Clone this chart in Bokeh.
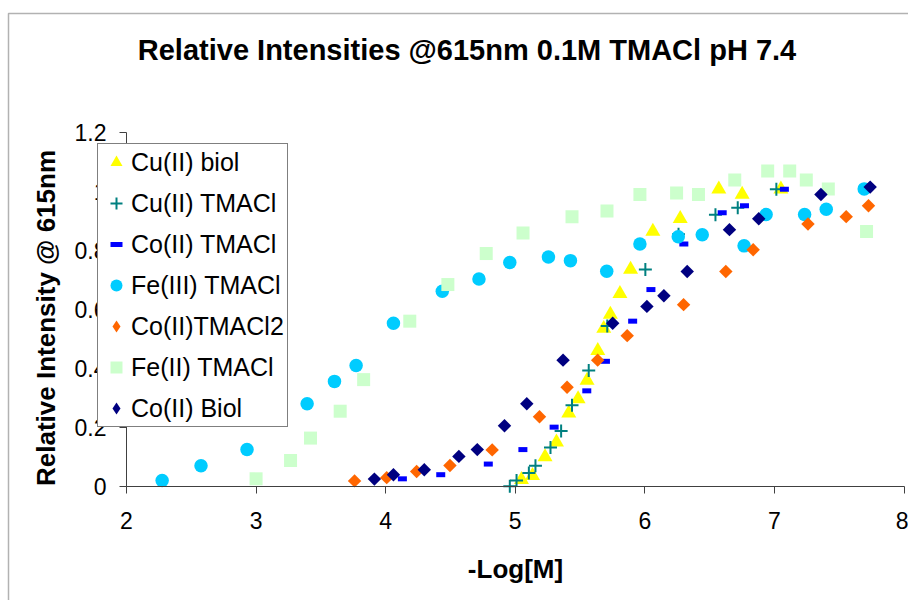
import math
from bokeh.plotting import figure
from bokeh.models import Range1d, FixedTicker, Legend, LegendItem, BoxAnnotation, Label
from bokeh.embed import file_html
from bokeh.resources import INLINE

# ---- data ----
x_ticks = [2, 3, 4, 5, 6, 7, 8]
x_tick_labels = ["2", "3", "4", "5", "6", "7", "8"]
y_ticks = [0, 0.2, 0.4, 0.6, 0.8, 1.0, 1.2]
y_tick_labels = ["0", "0.2", "0.4", "0.6", "0.8", "1", "1.2"]

title_text = "Relative Intensities @615nm 0.1M TMACl pH 7.4"
x_label = "-Log[M]"
y_label = "Relative Intensity @ 615nm"

series_names = ["Cu(II) biol", "Cu(II) TMACl", "Co(II) TMACl", "Fe(III) TMACl",
                "Co(II)TMACl2", "Fe(II) TMACl", "Co(II) Biol"]

cu_biol_x = [5.048, 5.133, 5.23, 5.318, 5.413, 5.485, 5.554, 5.637, 5.683, 5.734, 5.808, 5.89,
             6.062, 6.273, 6.571, 6.751, 7.05]
cu_biol_y = [0.023, 0.037, 0.10, 0.15, 0.248, 0.297, 0.359, 0.46, 0.535, 0.583, 0.653, 0.735,
             0.864, 0.907, 1.007, 0.989, 1.007]

cu_tmacl_x = [4.958, 5.01, 5.105, 5.156, 5.272, 5.354, 5.438, 5.567, 5.71, 6.004, 6.26, 6.545,
              6.717, 7.015]
cu_tmacl_y = [0.001, 0.02, 0.046, 0.07, 0.132, 0.188, 0.275, 0.393, 0.544, 0.735, 0.854, 0.92,
              0.944, 1.007]

co_tmacl_x = [4.129, 4.425, 4.792, 5.059, 5.30, 5.552, 5.696, 5.906, 6.047, 6.301, 6.597, 6.769,
              7.077]
co_tmacl_y = [0.026, 0.04, 0.076, 0.125, 0.201, 0.324, 0.424, 0.56, 0.667, 0.821, 0.927, 0.951,
              1.007]

fe3_tmacl_x = [2.275, 2.575, 2.93, 3.394, 3.605, 3.772, 4.06, 4.437, 4.72, 4.958, 5.256, 5.426,
               5.706, 5.962, 6.258, 6.443, 6.766, 6.936, 7.233, 7.40, 7.693]
fe3_tmacl_y = [0.02, 0.07, 0.125, 0.28, 0.356, 0.41, 0.553, 0.661, 0.703, 0.759, 0.777, 0.765,
               0.729, 0.821, 0.846, 0.853, 0.815, 0.921, 0.921, 0.939, 1.008]

co_tmacl2_x = [3.76, 4.008, 4.239, 4.496, 4.822, 5.187, 5.40, 5.636, 5.864, 6.299, 6.625, 6.836,
               7.259, 7.554, 7.726]
co_tmacl2_y = [0.019, 0.03, 0.051, 0.071, 0.124, 0.236, 0.336, 0.428, 0.511, 0.616, 0.728, 0.802,
               0.889, 0.914, 0.951]

fe2_tmacl_x = [3.0, 3.266, 3.42, 3.649, 3.83, 4.186, 4.48, 4.776, 5.06, 5.438, 5.708, 5.962,
               6.245, 6.414, 6.694, 6.948, 7.118, 7.246, 7.416, 7.711]
fe2_tmacl_y = [0.026, 0.088, 0.164, 0.255, 0.362, 0.56, 0.684, 0.789, 0.859, 0.914, 0.933, 0.989,
               0.994, 0.989, 1.038, 1.069, 1.069, 1.038, 1.008, 0.864]

co_biol_x = [3.913, 4.06, 4.298, 4.565, 4.707, 4.917, 5.089, 5.369, 5.752, 6.016, 6.147, 6.327,
             6.653, 6.879, 7.359, 7.739]
co_biol_y = [0.025, 0.04, 0.057, 0.102, 0.125, 0.206, 0.28, 0.428, 0.553, 0.61, 0.646, 0.728,
             0.87, 0.907, 0.989, 1.014]

# ---- layout (pixel geometry of the plot area) ----
W, H = 908, 600
X_LO, X_HI = 2, 8          # axis span
Y_LO, Y_HI = 0, 1.2
AX_LEFT, AX_RIGHT = 126, 903.5   # pixel of x=2, x=8
AX_BOTTOM, AX_TOP = 486, 131.7   # pixel of y=0, y=1.2
sx = (AX_RIGHT - AX_LEFT) / (X_HI - X_LO)
sy = (AX_BOTTOM - AX_TOP) / (Y_HI - Y_LO)


def px2x(px):
    return X_LO + (px - AX_LEFT) / sx


def py2y(py):
    return Y_LO + (AX_BOTTOM - py) / sy


FONT = "Liberation Sans"

p = figure(width=W, height=H, output_backend="svg", toolbar_location=None, title=None,
           x_range=Range1d(px2x(0), px2x(W)), y_range=Range1d(py2y(H), py2y(0)),
           min_border_left=0, min_border_right=0, min_border_top=0, min_border_bottom=0)
p.outline_line_color = None
p.grid.visible = False
p.background_fill_color = "white"
p.border_fill_color = "white"

for ax, ticks, labels, loc, bnds in ((p.xaxis[0], x_ticks, x_tick_labels, Y_LO, (X_LO, X_HI)),
                                     (p.yaxis[0], y_ticks, y_tick_labels, X_LO, (Y_LO, Y_HI))):
    ax.fixed_location = loc
    ax.bounds = bnds
    ax.ticker = FixedTicker(ticks=ticks)
    ax.major_label_overrides = {t: l for t, l in zip(ticks, labels)}
    ax.minor_tick_line_color = None
    ax.major_tick_in = 0
    ax.major_tick_out = 7
    ax.axis_line_color = "#404040"
    ax.major_tick_line_color = "#404040"
    ax.major_label_text_font = FONT
    ax.major_label_text_font_size = "23px"
    ax.major_label_text_color = "black"
    ax.axis_label_text_font = FONT
    ax.axis_label_text_font_size = "26px"
    ax.axis_label_text_font_style = "bold"
    ax.axis_label_text_color = "black"

p.xaxis.axis_label = x_label
p.xaxis.major_label_standoff = 18
p.yaxis.major_label_standoff = 13
p.xaxis.axis_label_standoff = 22

# y-axis title: Excel places it a little below the axis centre
y_title = Label(x=px2x(45), y=py2y(317.5), text=y_label, angle=math.pi / 2,
                text_align="center", text_baseline="middle", text_font=FONT,
                text_font_size="26px", text_font_style="bold", text_color="black")
p.add_layout(y_title)

r1 = p.scatter(cu_biol_x, cu_biol_y, marker="triangle", size=15,
               fill_color="#FFFF00", line_color=None)
r2 = p.scatter(cu_tmacl_x, cu_tmacl_y, marker="cross", size=13,
               line_color="#008080", line_width=2)
r3 = p.scatter(co_tmacl_x, co_tmacl_y, marker="dash", size=9,
               line_color="#0000FF", line_width=5)
r4 = p.scatter(fe3_tmacl_x, fe3_tmacl_y, marker="circle", size=13.5,
               fill_color="#00CCFF", line_color=None)
r5 = p.scatter(co_tmacl2_x, co_tmacl2_y, marker="square", size=9.5, angle=math.pi / 4,
               fill_color="#FF6600", line_color=None)
r6 = p.scatter(fe2_tmacl_x, fe2_tmacl_y, marker="square", size=13,
               fill_color="#CCFFCC", line_color=None)
r7 = p.scatter(co_biol_x, co_biol_y, marker="square", size=9.5, angle=math.pi / 4,
               fill_color="#000080", line_color=None)

# legend keys for the diamond series (the legend does not rotate markers);
# a single NaN point is never drawn in the plot, only used as the legend key
nan = float("nan")
k5 = p.scatter([nan], [nan], marker="diamond", size=14, fill_color="#FF6600", line_color=None)
k7 = p.scatter([nan], [nan], marker="diamond", size=14, fill_color="#000080", line_color=None)

legend_renderers = [r1, r2, r3, r4, k5, r6, k7]
legend = Legend(items=[LegendItem(label=n, renderers=[r])
                       for n, r in zip(series_names, legend_renderers)],
                location=(97, H - 427), orientation="vertical",
                border_line_color="black", border_line_width=1,
                background_fill_color="white", background_fill_alpha=1,
                label_text_font=FONT, label_text_font_size="25px", label_text_color="black",
                glyph_width=30, glyph_height=30, label_height=30, spacing=11,
                padding=3, label_standoff=0, margin=0)
p.add_layout(legend)

title = Label(x=px2x(466.5), y=py2y(49), text=title_text, text_align="center",
              text_baseline="middle", text_font=FONT, text_font_size="29px",
              text_font_style="bold", text_color="black")
p.add_layout(title)

border = BoxAnnotation(left=px2x(8), top=py2y(13), right=px2x(3000), bottom=py2y(3000),
                       fill_alpha=0, line_color="black", line_width=1.5)
p.add_layout(border)

open("out.html", "w").write(file_html(p, INLINE))
